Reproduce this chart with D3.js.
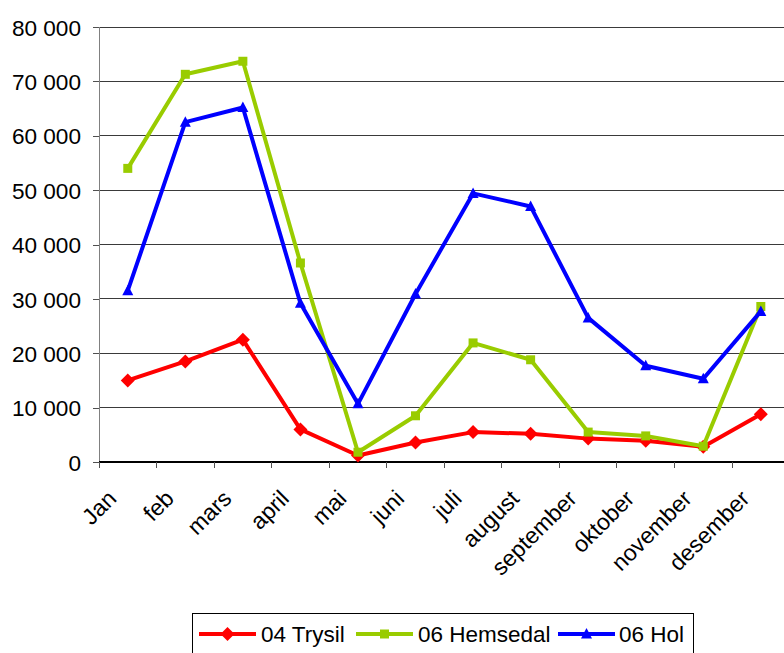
<!DOCTYPE html>
<html>
<head>
<meta charset="utf-8">
<script src="https://cdn.jsdelivr.net/npm/d3@7/dist/d3.min.js"></script>
<style>
  html, body { margin: 0; padding: 0; background: #fff; }
  svg { display: block; font-family: "Liberation Sans", Arial, sans-serif; }
</style>
</head>
<body>
<svg id="chart" width="784" height="653"></svg>
<script>
// Monthly values per destination
const months = ["Jan", "feb", "mars", "april", "mai", "juni", "juli", "august",
                "september", "oktober", "november", "desember"];
const trysil   = [15000, 18500, 22500, 6000, 1200, 3600, 5500, 5200, 4300, 3900, 2800, 8800];
const hemsedal = [54000, 71300, 73700, 36600, 1800, 8500, 21900, 18800, 5500, 4800, 2900, 28600];
const hol      = [31500, 62500, 65200, 29200, 10700, 30900, 49400, 47000, 26500, 17700, 15300, 27700];
const yTicks   = [0, 10000, 20000, 30000, 40000, 50000, 60000, 70000, 80000];

const seriesNames = ["04 Trysil", "06 Hemsedal", "06 Hol"];
const seriesValues = [trysil, hemsedal, hol];
const colors = ["#ff0000", "#99cc00", "#0000ff"];
const markers = ["diamond", "square", "triangle"];

const svg = d3.select("#chart");
const plotLeft = 99, plotBottom = 462, plotTop = 27;
const bandW = 57.55;

const x = d3.scaleBand().domain(months).range([plotLeft, plotLeft + bandW * months.length]).padding(0);
const y = d3.scaleLinear().domain([0, 80000]).range([plotBottom, plotTop]);

const fmt = v => d3.format(",")(v).replace(/,/g, " ");

// Horizontal gridlines
svg.append("g")
  .selectAll("line")
  .data(yTicks.filter(v => v > 0))
  .join("line")
  .attr("x1", plotLeft).attr("x2", 784)
  .attr("y1", d => y(d)).attr("y2", d => y(d))
  .attr("stroke", "#3a3a3a").attr("stroke-width", 1)
  .attr("shape-rendering", "crispEdges");

// Y axis
const yAxis = d3.axisLeft(y).tickValues(yTicks).tickSize(6).tickFormat(fmt);
const gy = svg.append("g").attr("transform", `translate(${plotLeft},0)`).call(yAxis);
gy.select(".domain").attr("stroke", "#808080").attr("shape-rendering", "crispEdges");
gy.selectAll(".tick line").attr("stroke", "#505050").attr("shape-rendering", "crispEdges");
gy.selectAll(".tick text")
  .attr("x", -18)
  .attr("dy", "0.36em")
  .attr("fill", "#000")
  .style("font-size", "22.6px")
  .style("font-family", "'Liberation Sans', Arial, sans-serif");

// X axis: ticks on category boundaries
const boundaries = d3.range(months.length + 1).map(i => plotLeft + i * x.bandwidth());
svg.append("line")
  .attr("x1", plotLeft).attr("x2", 784)
  .attr("y1", plotBottom).attr("y2", plotBottom)
  .attr("stroke", "#000").attr("stroke-width", 1.2)
  .attr("shape-rendering", "crispEdges");
svg.append("g")
  .selectAll("line")
  .data(boundaries)
  .join("line")
  .attr("x1", d => d).attr("x2", d => d)
  .attr("y1", plotBottom).attr("y2", plotBottom + 6)
  .attr("stroke", "#505050")
  .attr("shape-rendering", "crispEdges");

// Rotated month labels
svg.append("g")
  .selectAll("text")
  .data(months)
  .join("text")
  .attr("transform", d => `translate(${x(d) + x.bandwidth() / 2 - 10},${plotBottom + 38}) rotate(-45)`)
  .attr("text-anchor", "end")
  .attr("fill", "#000")
  .style("font-size", "23px")
  .text(d => d);

// Marker shapes
function markerPath(kind) {
  if (kind === "diamond") return "M0,-7L7,0L0,7L-7,0Z";
  if (kind === "square") return "M-4.5,-4.5H4.5V4.5H-4.5Z";
  return "M0,-6L5.5,4.5H-5.5Z";
}

const line = d3.line()
  .x((d, i) => x(months[i]) + x.bandwidth() / 2)
  .y(d => y(d));

seriesValues.forEach((vals, s) => {
  const g = svg.append("g");
  g.append("path")
    .datum(vals)
    .attr("d", line)
    .attr("fill", "none")
    .attr("stroke", colors[s])
    .attr("stroke-width", 4)
    .attr("stroke-linejoin", "round");
  g.selectAll("path.m")
    .data(vals)
    .join("path")
    .attr("class", "m")
    .attr("transform", (d, i) => `translate(${x(months[i]) + x.bandwidth() / 2},${y(d)})`)
    .attr("d", markerPath(markers[s]))
    .attr("fill", colors[s]);
});

// Legend
const legend = svg.append("g");
legend.append("rect")
  .attr("x", 192.5).attr("y", 613.5)
  .attr("width", 501).attr("height", 60)
  .attr("fill", "#fff").attr("stroke", "#000").attr("stroke-width", 1);

const legendItems = [
  { x0: 199, x1: 256, tx: 261 },
  { x0: 356, x1: 413, tx: 418 },
  { x0: 558, x1: 615, tx: 619 }
];
const ly = 634;
legendItems.forEach((it, s) => {
  legend.append("line")
    .attr("x1", it.x0).attr("x2", it.x1)
    .attr("y1", ly).attr("y2", ly)
    .attr("stroke", colors[s]).attr("stroke-width", 4);
  legend.append("path")
    .attr("transform", `translate(${(it.x0 + it.x1) / 2},${ly})`)
    .attr("d", markerPath(markers[s]))
    .attr("fill", colors[s]);
  legend.append("text")
    .attr("x", it.tx).attr("y", ly)
    .attr("dy", "0.36em")
    .attr("fill", "#000")
    .style("font-size", "22.5px")
    .text(seriesNames[s]);
});
</script>
</body>
</html>
